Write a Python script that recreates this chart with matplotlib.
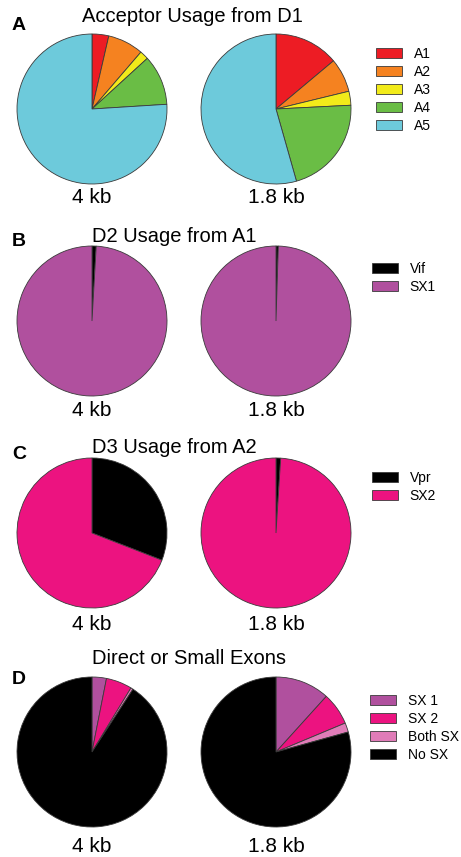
import matplotlib
matplotlib.use("Agg")
import matplotlib.pyplot as plt

W, H = 461, 857

plt.rcParams["font.family"] = ["Liberation Sans", "DejaVu Sans"]

# Panel A: acceptor usage from D1 (percent)
acc_labels = ["A1", "A2", "A3", "A4", "A5"]
acc_colors = ["#ed1c24", "#f58220", "#f2eb1a", "#6abd45", "#6dcadb"]
acc_4kb = [3.6, 7.7, 1.9, 10.8, 76.0]
acc_18kb = [13.9, 7.3, 3.0, 21.4, 54.4]

# Panel B: D2 usage from A1
d2_labels = ["Vif", "SX1"]
d2_colors = ["#000000", "#b0509e"]
d2_4kb = [0.9, 99.1]
d2_18kb = [0.5, 99.5]

# Panel C: D3 usage from A2
d3_labels = ["Vpr", "SX2"]
d3_colors = ["#000000", "#ec1380"]
d3_4kb = [30.9, 69.1]
d3_18kb = [1.0, 99.0]

# Panel D: direct or small exons
sx_labels = ["SX 1", "SX 2", "Both SX", "No SX"]
sx_colors = ["#b0509e", "#ec1380", "#e07cb8", "#000000"]
sx_4kb = [3.1, 5.6, 0.5, 90.8]
sx_18kb = [11.7, 7.0, 2.0, 79.3]

sizes = ["4 kb", "1.8 kb"]

panels = [
    # letter, title, title_x, top, values, labels, colors, legend (x, y)
    ("A", "Acceptor Usage from D1", 192, 0, (acc_4kb, acc_18kb), acc_labels, acc_colors, (376, 47)),
    ("B", "D2 Usage from A1", 174, 210, (d2_4kb, d2_18kb), d2_labels, d2_colors, (372, 262)),
    ("C", "D3 Usage from A2", 174, 420, (d3_4kb, d3_18kb), d3_labels, d3_colors, (372, 471)),
    ("D", "Direct or Small Exons", 189, 630, (sx_4kb, sx_18kb), sx_labels, sx_colors, (370, 694)),
]

# pie geometry relative to the top of each panel
pie_x = [92, 276]
pie_dy = [109, 111, 113, 122]
label_dy = [197, 200, 205, 217]
title_dy = [16, 26, 27, 28]
letter_dy = [25, 31, 34, 50]
radius = 75

fig = plt.figure(figsize=(W / 100, H / 100), dpi=100)
ax = fig.add_axes([0, 0, 1, 1])


def fy(y):
    return H - y


for i, (letter, title, tx, top, values, labels, colors, leg) in enumerate(panels):
    wedges = None
    for j, vals in enumerate(values):
        w, _ = ax.pie(
            vals,
            colors=colors,
            startangle=90,
            counterclock=False,
            center=(pie_x[j], fy(top + pie_dy[i])),
            radius=radius,
            wedgeprops=dict(edgecolor="#3a3a3a", linewidth=0.6),
        )
        if wedges is None:
            wedges = w
        ax.text(pie_x[j], fy(top + label_dy[i]), sizes[j], ha="center", va="center",
                fontsize=15)
    ax.text(tx, fy(top + title_dy[i]), title, ha="center", va="center", fontsize=14.5)
    ax.text(12, fy(top + letter_dy[i]), letter, ha="left", va="center",
            fontsize=14, fontweight="bold")
    fig.legend(
        wedges, labels,
        loc="upper left",
        bbox_to_anchor=(leg[0] / W, fy(leg[1]) / H),
        frameon=False,
        fontsize=10,
        handlelength=1.9,
        handleheight=0.7,
        handletextpad=0.8,
        labelspacing=0.28,
        borderpad=0,
        borderaxespad=0,
    )

ax.set_xlim(0, W)
ax.set_ylim(0, H)
ax.set_aspect("equal")
ax.axis("off")

fig.savefig("out.png", dpi=100)
